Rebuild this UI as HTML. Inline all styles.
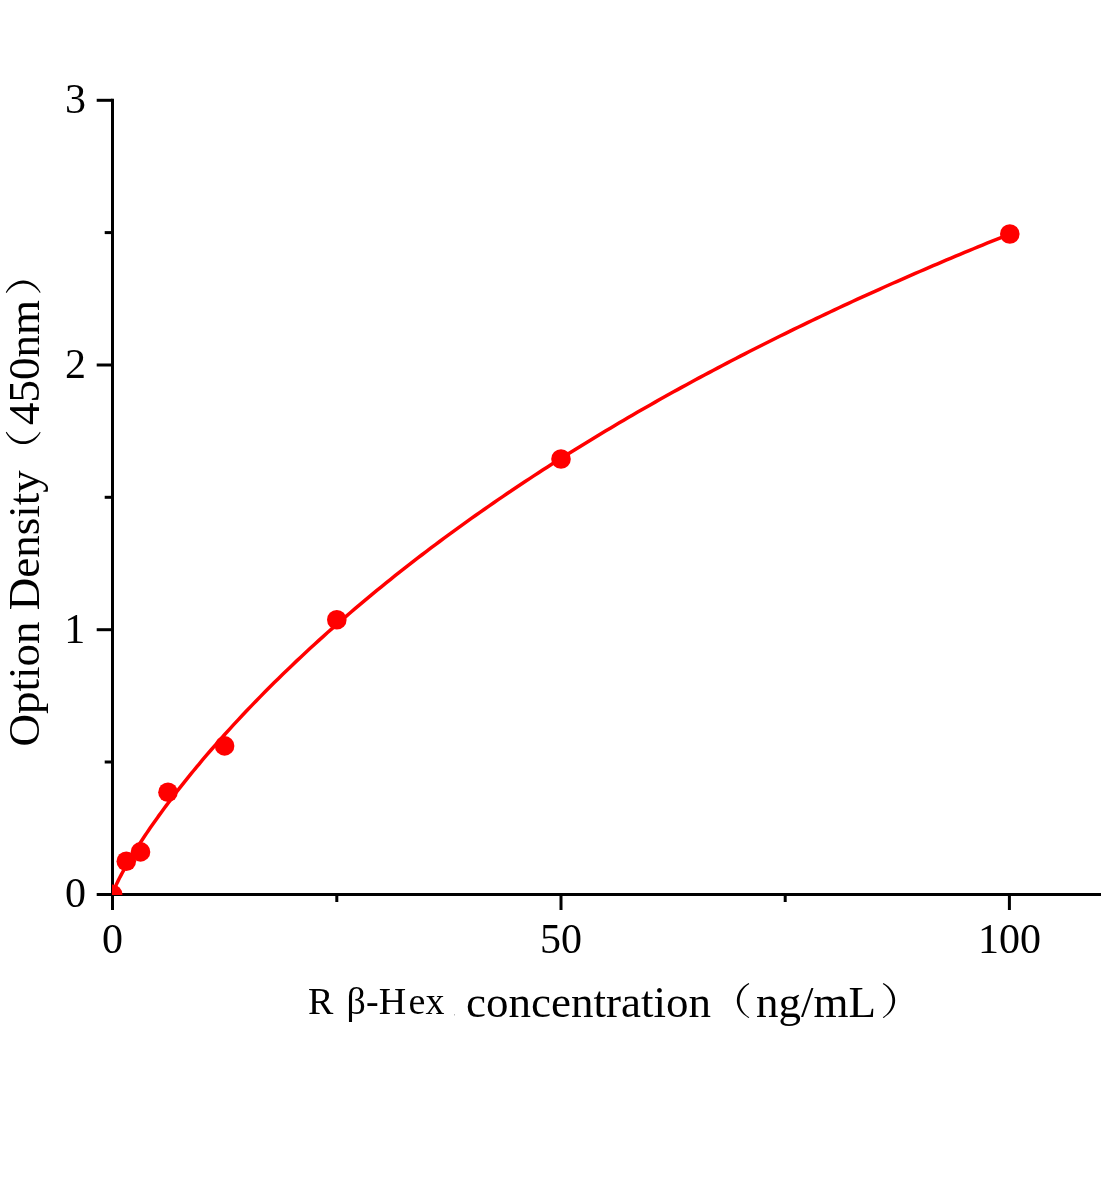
<!DOCTYPE html>
<html><head><meta charset="utf-8"><style>
html,body{margin:0;padding:0;background:#fff;}
body{width:1104px;height:1200px;overflow:hidden;}
svg{display:block;will-change:transform;}
text{font-family:"Liberation Serif",serif;fill:#000;}
</style></head><body>
<svg width="1104" height="1200" viewBox="0 0 1104 1200">
<defs>
<clipPath id="pa"><rect x="111.9" y="80" width="1000" height="815.1"/></clipPath>
<path id="lp" d="M11.7,-33.4 C-3.9,-24.9 -3.9,-7.0 11.7,1.4 L12.4,0.7 C-0.4,-7.0 -0.4,-24.9 12.4,-32.6 Z"/>
</defs>

<g stroke="#000" stroke-width="3" fill="none">
<line x1="112.5" y1="98.8" x2="112.5" y2="910"/>
<line x1="96.7" y1="894.6" x2="1101" y2="894.6"/>
<line x1="96.7" y1="100.3" x2="112.5" y2="100.3"/>
<line x1="96.7" y1="365" x2="112.5" y2="365"/>
<line x1="96.7" y1="629.7" x2="112.5" y2="629.7"/>
<line x1="104.7" y1="232.6" x2="112.5" y2="232.6"/>
<line x1="104.7" y1="497.3" x2="112.5" y2="497.3"/>
<line x1="104.7" y1="762" x2="112.5" y2="762"/>
<line x1="561" y1="894.6" x2="561" y2="910"/>
<line x1="1009.4" y1="894.6" x2="1009.4" y2="910"/>
<line x1="336.8" y1="894.6" x2="336.8" y2="902"/>
<line x1="785.2" y1="894.6" x2="785.2" y2="902"/>
</g>
<g clip-path="url(#pa)" fill="#ff0000">
<path d="M110.6,900.1 L112.60,893.97 L113.50,891.20 L114.39,888.95 L115.29,886.87 L116.19,884.89 L117.08,882.98 L117.98,881.14 L118.88,879.33 L119.77,877.57 L120.67,875.85 L121.57,874.15 L122.46,872.48 L123.36,870.84 L124.26,869.22 L125.16,867.62 L126.05,866.04 L126.95,864.47 L127.85,862.92 L128.74,861.39 L129.64,859.87 L130.54,858.37 L132.33,855.40 L134.12,852.48 L135.92,849.61 L137.71,846.77 L139.50,843.97 L141.30,841.21 L143.09,838.48 L144.88,835.78 L146.68,833.11 L148.47,830.47 L150.27,827.85 L152.06,825.27 L153.85,822.70 L155.65,820.16 L157.44,817.64 L159.23,815.14 L161.03,812.67 L162.82,810.21 L164.61,807.77 L166.41,805.35 L168.20,802.95 L170.00,800.57 L171.79,798.20 L173.58,795.85 L175.38,793.52 L177.17,791.21 L178.96,788.90 L180.76,786.62 L182.55,784.35 L184.34,782.09 L186.14,779.84 L187.93,777.62 L189.72,775.40 L191.52,773.20 L193.31,771.01 L195.11,768.83 L196.90,766.66 L198.69,764.51 L200.49,762.37 L202.28,760.24 L206.76,754.96 L211.25,749.76 L215.73,744.62 L220.22,739.54 L224.70,734.52 L229.18,729.56 L233.67,724.66 L238.15,719.82 L242.64,715.02 L247.12,710.28 L251.60,705.59 L256.09,700.94 L260.57,696.35 L265.06,691.80 L269.54,687.29 L274.02,682.83 L278.51,678.41 L282.99,674.03 L287.48,669.69 L291.96,665.39 L296.44,661.13 L300.93,656.91 L305.41,652.72 L309.90,648.57 L314.38,644.45 L318.86,640.37 L323.35,636.33 L327.83,632.31 L332.32,628.33 L336.80,624.39 L341.28,620.47 L345.77,616.58 L350.25,612.73 L354.74,608.90 L359.22,605.10 L363.70,601.33 L368.19,597.59 L372.67,593.88 L377.16,590.20 L381.64,586.54 L386.12,582.91 L390.61,579.30 L395.09,575.72 L399.58,572.16 L404.06,568.63 L408.54,565.13 L413.03,561.65 L417.51,558.19 L422.00,554.75 L426.48,551.34 L430.96,547.95 L435.45,544.59 L439.93,541.24 L444.42,537.92 L448.90,534.62 L453.38,531.34 L457.87,528.08 L462.35,524.85 L466.84,521.63 L471.32,518.43 L475.80,515.25 L480.29,512.10 L484.77,508.96 L489.26,505.84 L493.74,502.74 L498.22,499.66 L502.71,496.60 L507.19,493.55 L511.68,490.53 L516.16,487.52 L520.64,484.53 L525.13,481.55 L529.61,478.60 L534.10,475.66 L538.58,472.73 L543.06,469.83 L547.55,466.94 L552.03,464.07 L556.52,461.21 L561.00,458.37 L565.48,455.54 L569.97,452.74 L574.45,449.94 L578.94,447.16 L583.42,444.40 L587.90,441.65 L592.39,438.92 L596.87,436.20 L601.36,433.49 L605.84,430.80 L610.32,428.13 L614.81,425.47 L619.29,422.82 L623.78,420.18 L628.26,417.56 L632.74,414.96 L637.23,412.36 L641.71,409.78 L646.20,407.22 L650.68,404.66 L655.16,402.12 L659.65,399.59 L664.13,397.08 L668.62,394.58 L673.10,392.08 L677.58,389.61 L682.07,387.14 L686.55,384.69 L691.04,382.25 L695.52,379.82 L700.00,377.40 L704.49,374.99 L708.97,372.60 L713.46,370.21 L717.94,367.84 L722.42,365.48 L726.91,363.13 L731.39,360.79 L735.88,358.46 L740.36,356.15 L744.84,353.84 L749.33,351.55 L753.81,349.26 L758.30,346.99 L762.78,344.72 L767.26,342.47 L771.75,340.23 L776.23,338.00 L780.72,335.77 L785.20,333.56 L789.68,331.36 L794.17,329.17 L798.65,326.98 L803.14,324.81 L807.62,322.65 L812.10,320.49 L816.59,318.35 L821.07,316.21 L825.56,314.09 L830.04,311.97 L834.52,309.86 L839.01,307.76 L843.49,305.68 L847.98,303.60 L852.46,301.52 L856.94,299.46 L861.43,297.41 L865.91,295.36 L870.40,293.33 L874.88,291.30 L879.36,289.28 L883.85,287.27 L888.33,285.27 L892.82,283.27 L897.30,281.29 L901.78,279.31 L906.27,277.34 L910.75,275.38 L915.24,273.43 L919.72,271.48 L924.20,269.55 L928.69,267.62 L933.17,265.70 L937.66,263.78 L942.14,261.88 L946.62,259.98 L951.11,258.09 L955.59,256.20 L960.08,254.33 L964.56,252.46 L969.04,250.60 L973.53,248.75 L978.01,246.90 L982.50,245.06 L986.98,243.23 L991.46,241.40 L995.95,239.59 L1000.43,237.78 L1004.92,235.97 L1009.40,234.18" fill="none" stroke="#ff0000" stroke-width="3.5"/>
<circle cx="112.6" cy="894.4" r="9.8"/>
<circle cx="126.3" cy="861.3" r="9.8"/>
<circle cx="140.5" cy="851.9" r="9.8"/>
<circle cx="168.0" cy="792.2" r="9.8"/>
<circle cx="224.6" cy="745.9" r="9.8"/>
<circle cx="336.8" cy="619.8" r="9.8"/>
<circle cx="561.0" cy="459.0" r="9.8"/>
<circle cx="1009.8" cy="234.0" r="9.8"/>
</g>
<g font-size="42" text-anchor="end">
<text x="86" y="113">3</text>
<text x="86" y="377.6">2</text>
<text x="85.3" y="643">1</text>
<text x="86" y="907">0</text>
</g>
<g font-size="42" text-anchor="middle">
<text x="112.6" y="953.3">0</text>
<text x="561" y="953.3">50</text>
<text x="1009.4" y="953.3">100</text>
</g>
<g transform="translate(39.2,746.5) rotate(-90)">
<text font-size="45" x="0" y="0">Option Density</text>
<use href="#lp" x="302.4" y="0"/>
<text font-size="45" x="321.5" y="0">450nm</text>
<use href="#lp" transform="translate(465.9,0) scale(-1,1)"/>
</g>
<text font-size="38" x="308" y="1014">R</text>
<text font-size="38" x="346.5" y="1014">β</text>
<text font-size="38" x="366" y="1014">-H</text>
<text font-size="38" x="408.5" y="1014">e</text>
<text font-size="38" x="425.5" y="1014">x</text>
<text font-size="45" x="466" y="1016.5">concentration</text>
<use href="#lp" x="736.9" y="1016.5"/>
<text font-size="45" x="756" y="1016.5">ng/mL</text>
<use href="#lp" transform="translate(895.2,1016.5) scale(-1,1)"/>
<rect x="454" y="1014" width="1" height="1.5" fill="#bbb"/>
</svg>
</body></html>
